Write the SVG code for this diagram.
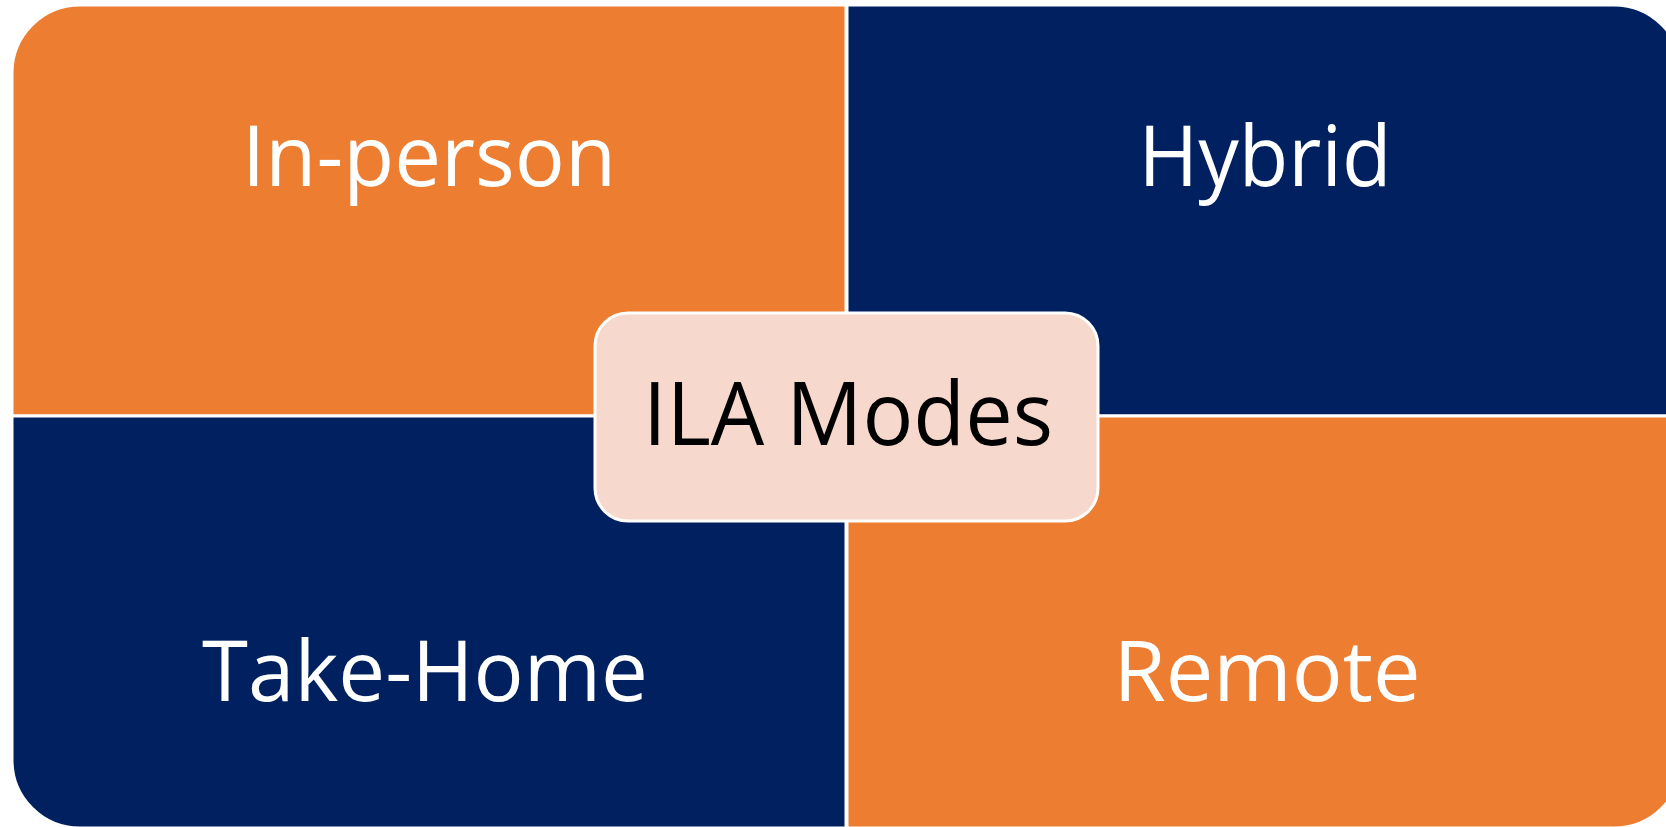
<svg xmlns="http://www.w3.org/2000/svg" width="1666" height="827" viewBox="0 0 1666 827">
<style>
.q{stroke:#FFFFFF;stroke-width:3}
.or{fill:#ED7D31}
.nv{fill:#002060}
.t{font-family:"Open Sans","Liberation Sans",Arial,sans-serif;font-size:85px;fill:#FFFFFF;text-anchor:middle}
.c{font-family:"Open Sans","Liberation Sans",Arial,sans-serif;font-size:87px;fill:#000000;text-anchor:middle}
</style>
<rect width="1666" height="827" fill="#FFFFFF"/>
<g id="inperson">
<path class="q or" d="M12,416 V73 A68,68 0 0 1 80,5 H846 V416 Z"/>
<text class="t" x="429" y="186" textLength="374" lengthAdjust="spacingAndGlyphs">In-person</text>
</g>
<g id="hybrid">
<path class="q nv" d="M847,5 H1614 A68,68 0 0 1 1682,73 V416 H847 Z"/>
<text class="t" x="1265" y="186" textLength="253" lengthAdjust="spacingAndGlyphs">Hybrid</text>
</g>
<g id="takehome">
<path class="q nv" d="M12,416 H846 V828 H80 A68,68 0 0 1 12,760 Z"/>
<text class="t" x="425" y="701" textLength="446" lengthAdjust="spacingAndGlyphs">Take-Home</text>
</g>
<g id="remote">
<path class="q or" d="M847,416 H1682 V760 A68,68 0 0 1 1614,828 H847 Z"/>
<text class="t" x="1267" y="701" textLength="307" lengthAdjust="spacingAndGlyphs">Remote</text>
</g>
<g id="connectors"></g>
<g id="center">
<rect x="595" y="313" width="503" height="208" rx="33" ry="33" fill="#F7D8CD" stroke="#FFFFFF" stroke-width="3"/>
<text class="c" x="848" y="445" textLength="410" lengthAdjust="spacingAndGlyphs">ILA Modes</text>
</g>
</svg>
